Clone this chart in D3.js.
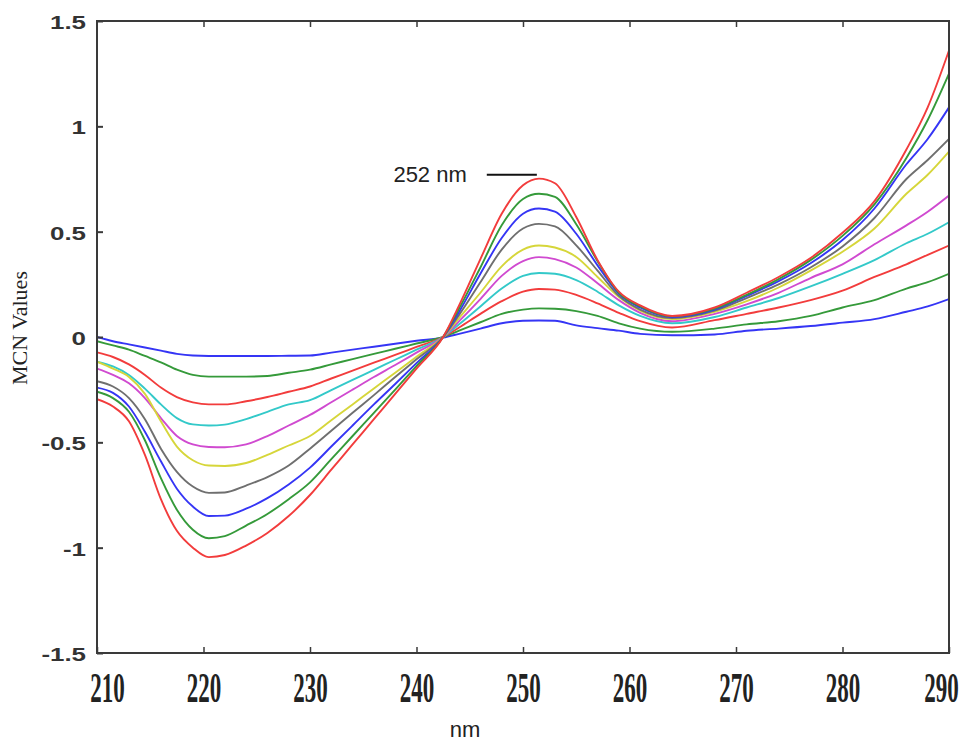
<!DOCTYPE html>
<html>
<head>
<meta charset="utf-8">
<script src="https://cdn.jsdelivr.net/npm/d3@7"></script>
<style>
  html, body { margin: 0; padding: 0; background: #fff; }
  svg { display: block; }
</style>
</head>
<body>
<script>
// ---- data ----
const wavelengths = [210, 211.5, 213, 214.5, 216, 217.5, 219, 220.5, 222, 224, 226, 228,
  230, 232, 234, 236, 238, 240, 242.5, 244, 246, 248, 250, 251.5,
  253, 255, 257, 259, 261, 264, 268, 271, 274, 277, 280, 283, 286, 288, 290];

const blue1 = [0.0,-0.02,-0.035,-0.05,-0.065,-0.08,-0.088,-0.09,-0.09,-0.09,-0.09,-0.089,
  -0.088,-0.074,-0.06,-0.046,-0.032,-0.018,-0.003,0.015,0.04,0.065,0.077,0.078,
  0.077,0.055,0.042,0.03,0.015,0.008,0.012,0.03,0.04,0.052,0.068,0.085,0.12,0.145,0.18];
const green2 = [-0.02,-0.04,-0.06,-0.09,-0.12,-0.155,-0.18,-0.188,-0.188,-0.188,-0.185,-0.17,
  -0.155,-0.13,-0.105,-0.08,-0.056,-0.031,0,0.03,0.07,0.11,0.13,0.136,
  0.134,0.123,0.10,0.065,0.04,0.025,0.04,0.06,0.075,0.10,0.14,0.175,0.23,0.26,0.30];
const red3 = [-0.073,-0.095,-0.13,-0.18,-0.24,-0.285,-0.31,-0.32,-0.32,-0.305,-0.285,-0.26,
  -0.235,-0.197,-0.16,-0.122,-0.085,-0.047,0,0.045,0.11,0.17,0.215,0.228,
  0.225,0.20,0.16,0.115,0.075,0.045,0.08,0.11,0.14,0.175,0.22,0.285,0.345,0.39,0.434];
const cyan4 = [-0.117,-0.14,-0.18,-0.245,-0.32,-0.385,-0.415,-0.42,-0.416,-0.39,-0.355,-0.32,
  -0.30,-0.252,-0.204,-0.156,-0.108,-0.06,0,0.06,0.145,0.23,0.29,0.304,
  0.30,0.27,0.215,0.15,0.10,0.065,0.095,0.14,0.185,0.24,0.30,0.365,0.445,0.49,0.545];
const magenta5 = [-0.15,-0.18,-0.22,-0.29,-0.385,-0.47,-0.51,-0.522,-0.523,-0.51,-0.47,-0.42,
  -0.37,-0.31,-0.25,-0.19,-0.133,-0.074,0,0.075,0.18,0.29,0.36,0.379,
  0.37,0.33,0.255,0.175,0.115,0.075,0.11,0.155,0.21,0.28,0.345,0.44,0.53,0.595,0.672];
const yellow6 = [-0.117,-0.15,-0.19,-0.27,-0.40,-0.52,-0.585,-0.61,-0.612,-0.598,-0.56,-0.515,
  -0.47,-0.395,-0.32,-0.244,-0.17,-0.094,0,0.09,0.21,0.335,0.415,0.434,
  0.425,0.38,0.285,0.19,0.125,0.085,0.12,0.17,0.235,0.315,0.405,0.515,0.68,0.77,0.88];
const gray7 = [-0.21,-0.235,-0.29,-0.39,-0.53,-0.64,-0.71,-0.74,-0.738,-0.705,-0.665,-0.61,
  -0.53,-0.445,-0.36,-0.276,-0.19,-0.106,0,0.105,0.26,0.415,0.515,0.537,
  0.525,0.435,0.315,0.195,0.13,0.09,0.125,0.185,0.25,0.33,0.43,0.565,0.75,0.84,0.94];
const blue8 = [-0.24,-0.265,-0.33,-0.45,-0.59,-0.72,-0.805,-0.85,-0.848,-0.815,-0.765,-0.70,
  -0.62,-0.52,-0.42,-0.32,-0.223,-0.124,0,0.12,0.30,0.47,0.585,0.61,
  0.595,0.49,0.34,0.205,0.14,0.095,0.13,0.195,0.265,0.35,0.46,0.61,0.82,0.94,1.09];
const green9 = [-0.26,-0.29,-0.355,-0.49,-0.67,-0.82,-0.915,-0.955,-0.945,-0.895,-0.84,-0.77,
  -0.69,-0.58,-0.47,-0.36,-0.25,-0.138,0,0.135,0.33,0.53,0.655,0.68,
  0.665,0.535,0.36,0.21,0.145,0.098,0.135,0.20,0.275,0.365,0.48,0.63,0.85,1.03,1.25];
const red10 = [-0.295,-0.33,-0.40,-0.56,-0.77,-0.92,-1.0,-1.045,-1.035,-0.99,-0.93,-0.85,
  -0.75,-0.63,-0.51,-0.39,-0.27,-0.15,0,0.15,0.37,0.585,0.72,0.752,
  0.73,0.57,0.365,0.215,0.15,0.10,0.14,0.21,0.285,0.375,0.495,0.645,0.89,1.09,1.36];

const seriesList = [blue1, green2, red3, cyan4, magenta5, yellow6, gray7, blue8, green9, red10];
const seriesColors = ["#3535f5", "#359a3a", "#f23c3c", "#33c9c9", "#d04ad0", "#d6d63a", "#6f6f6f", "#3535f5", "#359a3a", "#f23c3c"];

const xTicks = [210, 220, 230, 240, 250, 260, 270, 280, 290];
const yTicks = [-1.5, -1, -0.5, 0, 0.5, 1, 1.5];
const peakLabel = "252 nm";
const peakX = [246.6, 251.3];
const peakY = 0.77;

// ---- layout ----
const W = 969, H = 742;
const m = { l: 97, r: 949, t: 21, b: 653 };

const svg = d3.select("body").append("svg").attr("width", W).attr("height", H);
const x = d3.scaleLinear().domain([210, 290]).range([m.l, m.r]);
const y = d3.scaleLinear().domain([-1.5, 1.5]).range([m.b, m.t]);

// clip
svg.append("clipPath").attr("id", "clip").append("rect")
  .attr("x", m.l).attr("y", m.t).attr("width", m.r - m.l).attr("height", m.b - m.t);

// lines
const line = d3.line().x((d, i) => x(wavelengths[i])).y(d => y(d)).curve(d3.curveMonotoneX);
svg.append("g").attr("clip-path", "url(#clip)")
  .selectAll("path").data(seriesList).join("path")
  .attr("d", d => line(d))
  .attr("fill", "none")
  .attr("stroke", (d, i) => seriesColors[i])
  .attr("stroke-width", 1.9)
  .attr("stroke-linejoin", "round");

// frame
svg.append("rect")
  .attr("x", m.l).attr("y", m.t).attr("width", m.r - m.l).attr("height", m.b - m.t)
  .attr("fill", "none").attr("stroke", "#3a3a3a").attr("stroke-width", 2);

// left axis
const gy = svg.append("g").attr("transform", `translate(${m.l},0)`)
  .call(d3.axisLeft(y).tickValues(yTicks).tickSize(-6).tickPadding(11).tickFormat(d => String(d)));
gy.select(".domain").remove();
gy.selectAll(".tick line").attr("stroke", "#3a3a3a").attr("stroke-width", 2);
gy.selectAll(".tick text")
  .attr("font-family", "'Liberation Sans', Arial, sans-serif")
  .attr("font-weight", "bold").attr("font-size", 18.5).attr("fill", "#333")
  .attr("x", -11 / 1.4).attr("transform", "scale(1.4,1)").attr("dy", "0.4em");

// bottom axis (tall, condensed serif digits)
const sy = 1.85;
const gx = svg.append("g").attr("transform", `translate(0,${m.b})`)
  .call(d3.axisBottom(x).tickValues(xTicks).tickSize(-6).tickPadding(19).tickFormat(d => String(d)));
gx.select(".domain").remove();
gx.selectAll(".tick line").attr("stroke", "#3a3a3a").attr("stroke-width", 1.5);
gx.selectAll(".tick text")
  .attr("font-family", "'Liberation Serif', 'Times New Roman', serif")
  .attr("font-weight", "bold").attr("font-size", 23).attr("fill", "#222")
  .attr("dy", 0)
  .attr("y", 49 / sy)
  .attr("transform", `scale(1,${sy})`)
  .attr("x", d => d === 210 ? 10 : (d === 290 ? -8 : 0));

// top ticks
const gt = svg.append("g").attr("transform", `translate(0,${m.t})`)
  .call(d3.axisTop(x).tickValues(xTicks.slice(1, -1)).tickSize(-6).tickFormat(""));
gt.select(".domain").remove();
gt.selectAll(".tick line").attr("stroke", "#3a3a3a").attr("stroke-width", 1.5);

// axis titles
svg.append("text")
  .attr("transform", "translate(27,328) rotate(-90)")
  .attr("text-anchor", "middle")
  .attr("font-family", "'Liberation Serif', 'Times New Roman', serif")
  .attr("font-size", 22).attr("fill", "#222")
  .text("MCN Values");

svg.append("text")
  .attr("x", 465).attr("y", 737)
  .attr("text-anchor", "middle")
  .attr("font-family", "'Liberation Sans', Arial, sans-serif")
  .attr("font-size", 22).attr("fill", "#222")
  .text("nm");

// peak annotation
svg.append("line")
  .attr("x1", x(peakX[0])).attr("x2", x(peakX[1]))
  .attr("y1", y(peakY)).attr("y2", y(peakY))
  .attr("stroke", "#111").attr("stroke-width", 2);
svg.append("text")
  .attr("x", x(peakX[0]) - 20).attr("y", y(peakY) + 7)
  .attr("text-anchor", "end")
  .attr("font-family", "'Liberation Sans', Arial, sans-serif")
  .attr("font-size", 22).attr("fill", "#222")
  .text(peakLabel);
</script>
</body>
</html>
